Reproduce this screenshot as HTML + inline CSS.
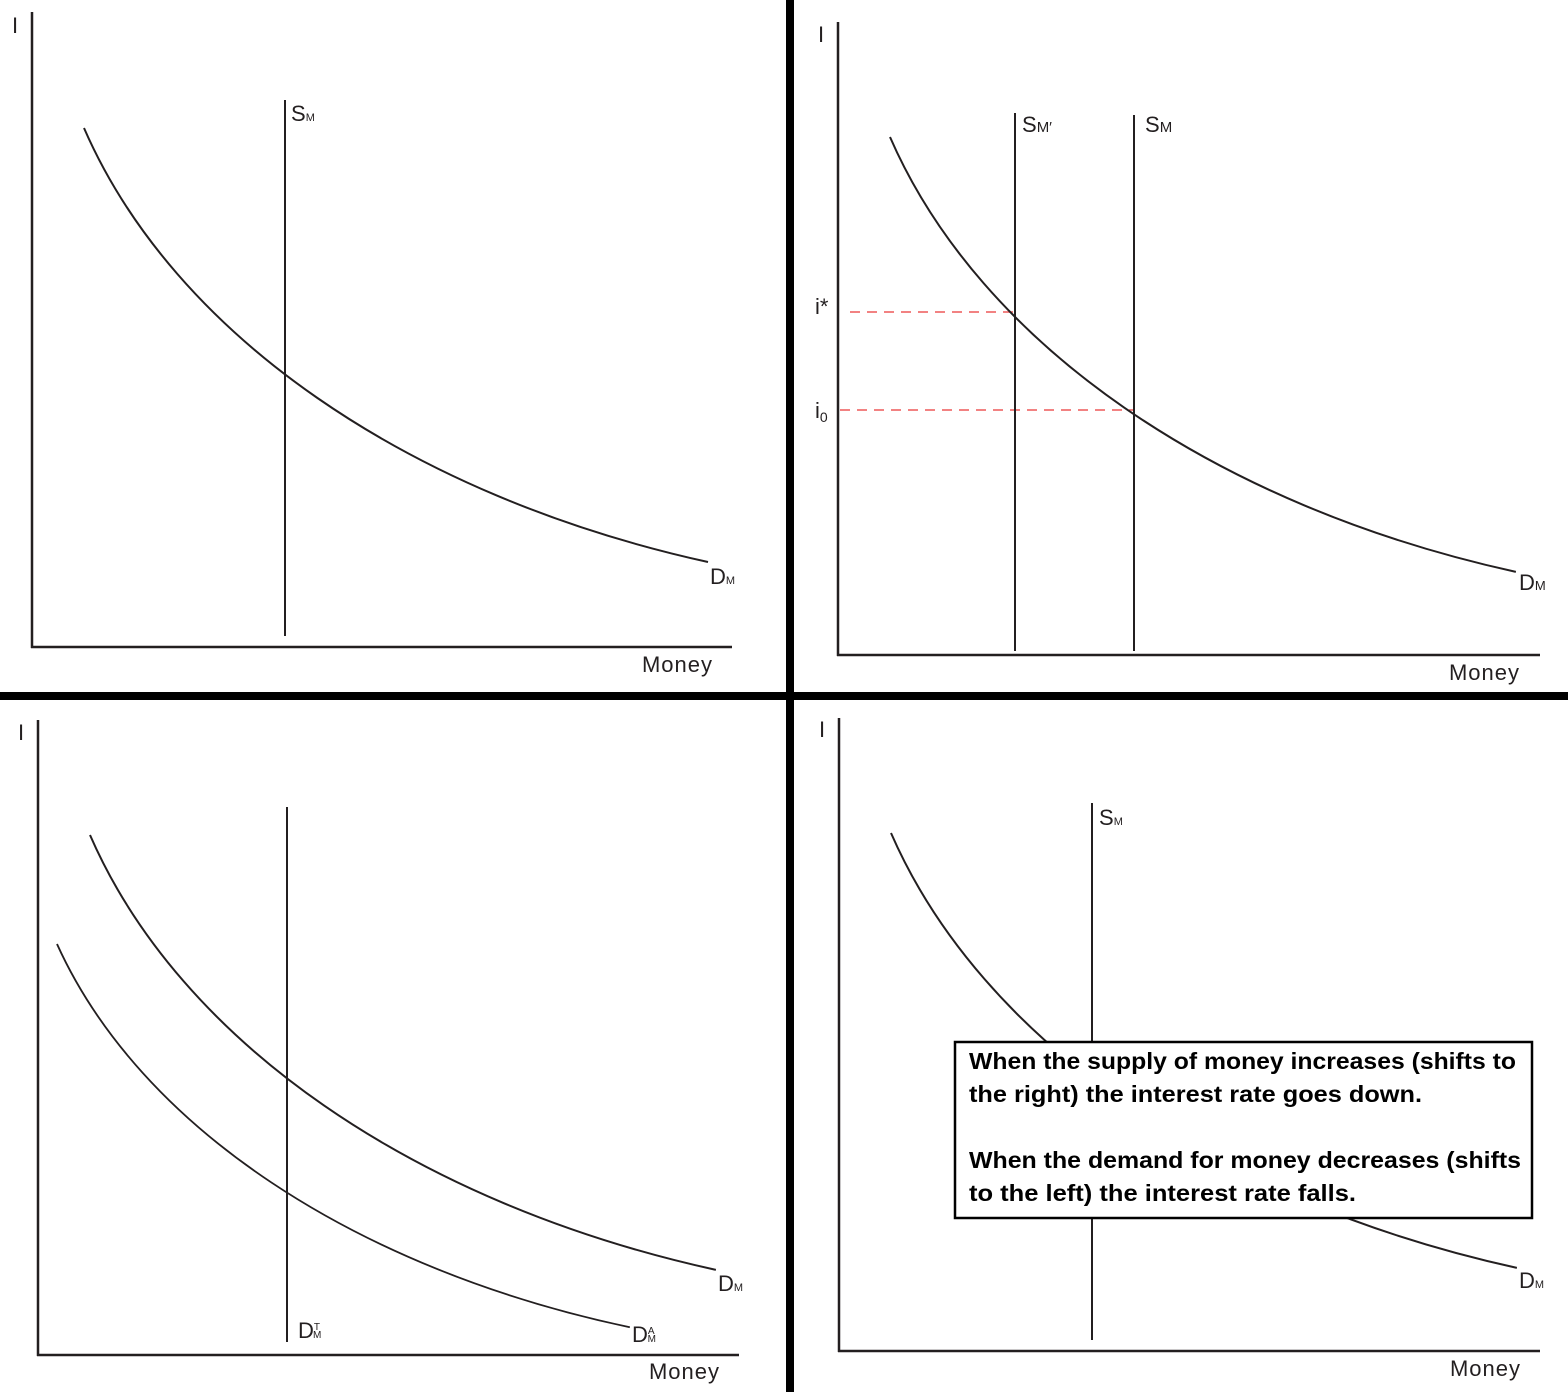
<!DOCTYPE html>
<html><head><meta charset="utf-8"><style>
html,body{margin:0;padding:0;background:#fff;}
svg{display:block;font-family:"Liberation Sans",sans-serif;}
.ax{stroke:#231f20;stroke-width:2.5;fill:none}
.ln{stroke:#231f20;stroke-width:2;fill:none}
.lbl{fill:#231f20;font-size:22px}
.dash{stroke:#f07070;stroke-width:1.8;stroke-dasharray:10,7}
</style></head><body>
<svg width="1568" height="1392" viewBox="0 0 1568 1392">
<rect width="1568" height="1392" fill="#fff"/>
<defs>
<path id="dcurve" d="M0,0 C90,207 324,368 624,434"/>
</defs>
<rect x="786" y="0" width="8" height="1392" fill="#000"/>
<rect x="0" y="692" width="1568" height="8" fill="#000"/>

<g>
<line class="ax" x1="32" y1="12" x2="32" y2="648"/>
<line class="ax" x1="31" y1="647" x2="732" y2="647"/>
<text class="lbl" x="12" y="33" font-size="20">I</text>
<text class="lbl" x="642" y="672" textLength="70">Money</text>
<line class="ln" x1="285" y1="100" x2="285" y2="636"/>
<text class="lbl" x="291" y="121" font-size="20">S<tspan font-size="11">M</tspan></text>
<use href="#dcurve" class="ln" transform="translate(84,128)"/>
<text class="lbl" x="710" y="584" font-size="20">D<tspan font-size="11">M</tspan></text>
</g>

<g>
<line class="ax" x1="838" y1="22" x2="838" y2="656"/>
<line class="ax" x1="837" y1="655" x2="1540" y2="655"/>
<text class="lbl" x="818" y="42" font-size="20">I</text>
<text class="lbl" x="1449" y="680" textLength="70">Money</text>
<line class="dash" x1="850" y1="312" x2="1015" y2="312"/>
<line class="dash" x1="840" y1="410" x2="1134" y2="410"/>
<text class="lbl" x="815" y="314">i*</text>
<text class="lbl" x="815" y="418">i<tspan font-size="14" dy="4">0</tspan></text>
<line class="ln" x1="1015" y1="113" x2="1015" y2="651"/>
<line class="ln" x1="1134" y1="115" x2="1134" y2="651"/>
<text class="lbl" x="1022" y="132" font-size="26">S<tspan font-size="15">M′</tspan></text>
<text class="lbl" x="1145" y="132" font-size="26">S<tspan font-size="15">M</tspan></text>
<use href="#dcurve" class="ln" transform="translate(890,137) scale(1.003,1.002)"/>
<text class="lbl" x="1519" y="590" font-size="24">D<tspan font-size="13">M</tspan></text>
</g>

<g>
<line class="ax" x1="38" y1="720" x2="38" y2="1356"/>
<line class="ax" x1="37" y1="1355" x2="739" y2="1355"/>
<text class="lbl" x="18" y="740" font-size="20">I</text>
<text class="lbl" x="649" y="1379" textLength="70">Money</text>
<line class="ln" x1="287" y1="807" x2="287" y2="1342"/>
<use href="#dcurve" class="ln" transform="translate(90,835) scale(1.003,1.002)"/>
<use href="#dcurve" class="ln" transform="translate(57,944) scale(0.918,0.883)"/>
<text class="lbl" x="718" y="1291" font-size="20">D<tspan font-size="11">M</tspan></text>
<text class="lbl" x="298" y="1338" font-size="20">D<tspan font-size="10" dy="-8">T</tspan><tspan font-size="10" dx="-7" dy="8">M</tspan></text>
<text class="lbl" x="632" y="1342" font-size="20">D<tspan font-size="10" dy="-8">A</tspan><tspan font-size="10" dx="-7" dy="8">M</tspan></text>
</g>

<g>
<line class="ax" x1="839" y1="718" x2="839" y2="1352"/>
<line class="ax" x1="838" y1="1351" x2="1540" y2="1351"/>
<text class="lbl" x="819" y="737" font-size="20">I</text>
<text class="lbl" x="1450" y="1376" textLength="70">Money</text>
<line class="ln" x1="1092" y1="803" x2="1092" y2="1340"/>
<text class="lbl" x="1099" y="825" font-size="20">S<tspan font-size="11">M</tspan></text>
<use href="#dcurve" class="ln" transform="translate(891,833) scale(1.003,1.002)"/>
<text class="lbl" x="1519" y="1288" font-size="20">D<tspan font-size="11">M</tspan></text>
<g>
<rect x="955" y="1042" width="577" height="176" fill="#fff" stroke="#000" stroke-width="2.5"/>
<text font-weight="bold" font-size="23" fill="#000" x="969" y="1069" textLength="547" lengthAdjust="spacingAndGlyphs">When the supply of money increases (shifts to</text>
<text font-weight="bold" font-size="23" fill="#000" x="969" y="1102" textLength="453" lengthAdjust="spacingAndGlyphs">the right) the interest rate goes down.</text>
<text font-weight="bold" font-size="23" fill="#000" x="969" y="1168" textLength="552" lengthAdjust="spacingAndGlyphs">When the demand for money decreases (shifts</text>
<text font-weight="bold" font-size="23" fill="#000" x="969" y="1201" textLength="387" lengthAdjust="spacingAndGlyphs">to the left) the interest rate falls.</text>
</g>
</g>
</svg>
</body></html>
